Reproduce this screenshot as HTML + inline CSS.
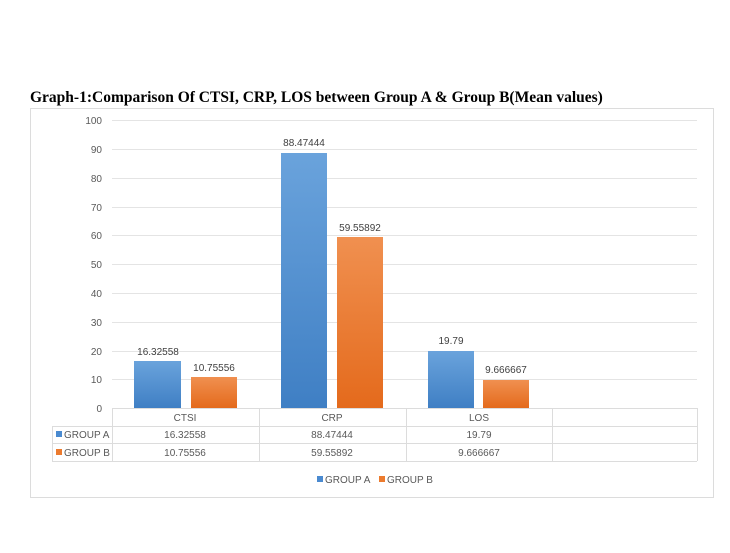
<!DOCTYPE html>
<html><head><style>
body{margin:0;background:#fff;width:730px;height:548px;overflow:hidden}
text{font-family:"Liberation Sans",sans-serif}
</style></head><body>
<svg width="730" height="548" xmlns="http://www.w3.org/2000/svg">
<defs>
<linearGradient id="ga" x1="0" x2="0" y1="0" y2="1"><stop offset="0" stop-color="#6aa3dc"/><stop offset="1" stop-color="#3f7fc4"/></linearGradient>
<linearGradient id="gb" x1="0" x2="0" y1="0" y2="1"><stop offset="0" stop-color="#f09050"/><stop offset="1" stop-color="#e46a1c"/></linearGradient>
</defs>
<text x="30" y="102" font-family="Liberation Serif" font-weight="bold" font-size="15.5" fill="#000" style="font-family:'Liberation Serif',serif">Graph-1:Comparison Of CTSI, CRP, LOS between Group A &amp; Group B(Mean values)</text>
<rect x="30.5" y="108.5" width="683" height="389" fill="none" stroke="#dcdcdc"/>
<g stroke="#e4e4e4" stroke-width="1">
<line x1="112" x2="697" y1="120.5" y2="120.5"/><line x1="112" x2="697" y1="149.5" y2="149.5"/>
<line x1="112" x2="697" y1="178.5" y2="178.5"/><line x1="112" x2="697" y1="207.5" y2="207.5"/>
<line x1="112" x2="697" y1="235.5" y2="235.5"/><line x1="112" x2="697" y1="264.5" y2="264.5"/>
<line x1="112" x2="697" y1="293.5" y2="293.5"/><line x1="112" x2="697" y1="322.5" y2="322.5"/>
<line x1="112" x2="697" y1="351.5" y2="351.5"/><line x1="112" x2="697" y1="379.5" y2="379.5"/>
</g>
<g font-size="10" fill="#595959" text-anchor="end">
<text x="102" y="124">100</text><text x="102" y="153">90</text><text x="102" y="182">80</text><text x="102" y="211">70</text><text x="102" y="239">60</text><text x="102" y="268">50</text><text x="102" y="297">40</text><text x="102" y="326">30</text><text x="102" y="355">20</text><text x="102" y="383">10</text><text x="102" y="412">0</text>
</g>
<rect x="134" y="361" width="47" height="47" fill="url(#ga)"/>
<rect x="191" y="377" width="46" height="31" fill="url(#gb)"/>
<rect x="281" y="153" width="46" height="255" fill="url(#ga)"/>
<rect x="337" y="237" width="46" height="171" fill="url(#gb)"/>
<rect x="428" y="351" width="46" height="57" fill="url(#ga)"/>
<rect x="483" y="380" width="46" height="28" fill="url(#gb)"/>
<g font-size="10" fill="#404040" text-anchor="middle">
<text x="158" y="355">16.32558</text><text x="214" y="371">10.75556</text>
<text x="304" y="146">88.47444</text><text x="360" y="231">59.55892</text>
<text x="451" y="344">19.79</text><text x="506" y="373">9.666667</text>
</g>
<g stroke="#dcdcdc" fill="none">
<line x1="112" x2="697" y1="408.5" y2="408.5"/>
<line x1="52" x2="697" y1="426.5" y2="426.5"/>
<line x1="52" x2="697" y1="443.5" y2="443.5"/>
<line x1="52" x2="697" y1="461.5" y2="461.5"/>
<line x1="52.5" x2="52.5" y1="426" y2="461"/>
<line x1="112.5" x2="112.5" y1="408" y2="461"/>
<line x1="259.5" x2="259.5" y1="408" y2="461"/>
<line x1="406.5" x2="406.5" y1="408" y2="461"/>
<line x1="552.5" x2="552.5" y1="408" y2="461"/>
<line x1="697.5" x2="697.5" y1="408" y2="461"/>
</g>
<g font-size="10" fill="#595959" text-anchor="middle">
<text x="185" y="421">CTSI</text><text x="332" y="421">CRP</text><text x="479" y="421">LOS</text>
<text x="185" y="438">16.32558</text><text x="332" y="438">88.47444</text><text x="479" y="438">19.79</text>
<text x="185" y="456">10.75556</text><text x="332" y="456">59.55892</text><text x="479" y="456">9.666667</text>
</g>
<rect x="56" y="431" width="6" height="6" fill="#4a8ad0"/>
<text x="64" y="438" font-size="10" fill="#595959">GROUP A</text>
<rect x="56" y="449" width="6" height="6" fill="#ec7b2e"/>
<text x="64" y="456" font-size="10" fill="#595959">GROUP B</text>
<rect x="317" y="476" width="6" height="6" fill="#4a8ad0"/>
<text x="325" y="483" font-size="10" fill="#595959">GROUP A</text>
<rect x="379" y="476" width="6" height="6" fill="#ec7b2e"/>
<text x="387" y="483" font-size="10" fill="#595959">GROUP B</text>
</svg>
</body></html>
